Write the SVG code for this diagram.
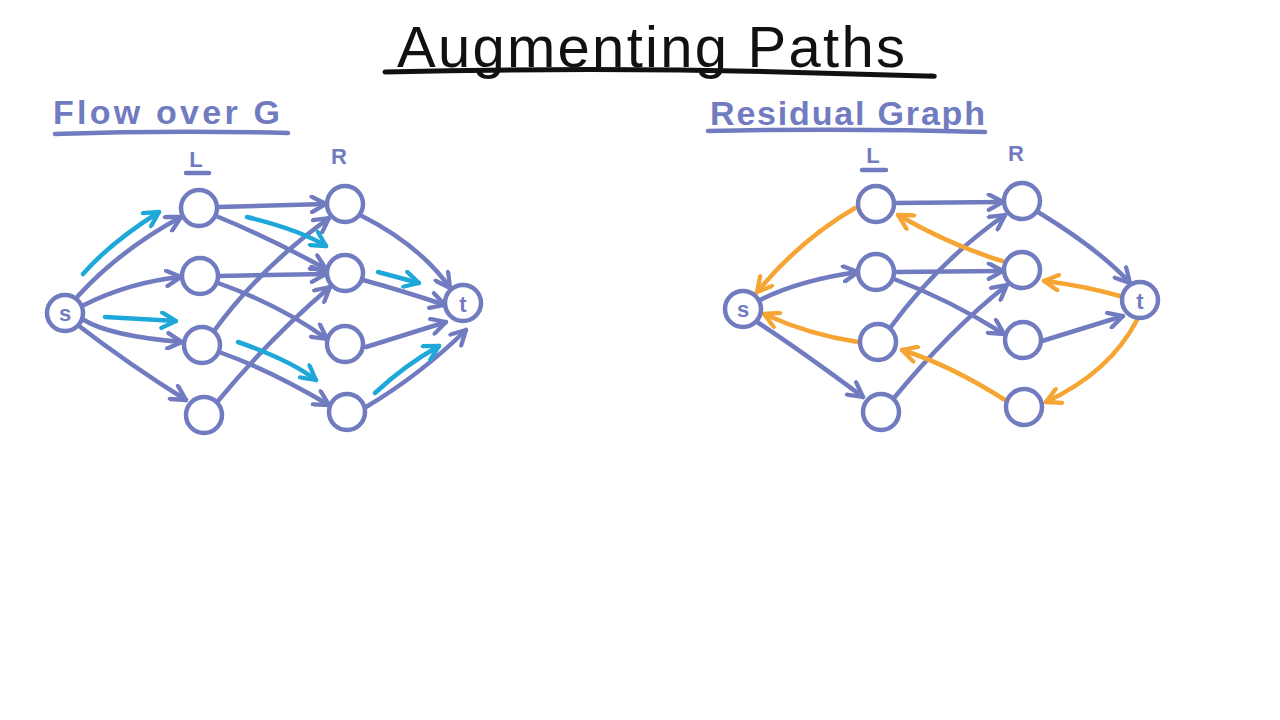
<svg xmlns="http://www.w3.org/2000/svg" width="1280" height="720" viewBox="0 0 1280 720">
<style>
.e{fill:none;stroke:#717bbf;stroke-width:4.5;stroke-linecap:round;stroke-linejoin:round}
.eb{marker-end:url(#ab)}
.c{fill:none;stroke:#1ea8da;stroke-width:4.5;stroke-linecap:round;marker-end:url(#ac)}
.o{fill:none;stroke:#f6a534;stroke-width:4.5;stroke-linecap:round;marker-end:url(#ao)}
.n{fill:#fff;stroke:#717bbf;stroke-width:4.5}
.h{font-family:"Liberation Sans",Arial,sans-serif;font-weight:bold;fill:#717bbf}
.lbl{font-family:"Liberation Sans",Arial,sans-serif;font-weight:bold;fill:#717bbf;font-size:22px;text-anchor:middle}
.ul{fill:none;stroke:#717bbf;stroke-width:4.5;stroke-linecap:round}
</style>
<defs>
<marker id="ab" viewBox="0 0 16 16" refX="14" refY="8" markerWidth="19" markerHeight="19" markerUnits="userSpaceOnUse" orient="auto"><path d="M2,1.5 L14,8 L2,14.5" fill="none" stroke="#717bbf" stroke-width="3.6" stroke-linecap="round" stroke-linejoin="round"/></marker>
<marker id="ac" viewBox="0 0 16 16" refX="14" refY="8" markerWidth="19" markerHeight="19" markerUnits="userSpaceOnUse" orient="auto"><path d="M2,1.5 L14,8 L2,14.5" fill="none" stroke="#1ea8da" stroke-width="3.6" stroke-linecap="round" stroke-linejoin="round"/></marker>
<marker id="ao" viewBox="0 0 16 16" refX="14" refY="8" markerWidth="19" markerHeight="19" markerUnits="userSpaceOnUse" orient="auto"><path d="M2,1.5 L14,8 L2,14.5" fill="none" stroke="#f6a534" stroke-width="3.6" stroke-linecap="round" stroke-linejoin="round"/></marker>
</defs>
<rect width="1280" height="720" fill="#fff"/>

<g id="title">
<text x="397" y="67" font-family="Liberation Sans,Arial,sans-serif" font-size="58" fill="#111" textLength="508" lengthAdjust="spacing">Augmenting Paths</text>
<path d="M385,72 Q600,67 780,72 T930,76" fill="none" stroke="#111" stroke-width="5" stroke-linecap="round"/>
</g>

<g id="heading-left">
<text class="h" x="53" y="124" font-size="34" textLength="227" lengthAdjust="spacing">Flow over G</text>
<path class="ul" d="M55,134 Q170,130 288,133"/>
</g>
<g id="heading-right">
<text class="h" x="710" y="125" font-size="34" textLength="275" lengthAdjust="spacing">Residual Graph</text>
<path class="ul" d="M708,131 Q850,128 985,132"/>
</g>

<g id="set-labels">
<text class="lbl" x="196" y="167" font-size="20">L</text>
<path class="ul" d="M186,173 L209,173" stroke-width="3.5"/>
<text class="lbl" x="339" y="164" font-size="20">R</text>
<text class="lbl" x="873" y="163" font-size="20">L</text>
<path class="ul" d="M862,170 L886,170" stroke-width="3.5"/>
<text class="lbl" x="1016" y="161" font-size="20">R</text>
</g>

<g id="connectors">
<!-- left graph edges -->
<path class="e eb" d="M78,296 Q120,250 181,217"/>
<path class="e eb" d="M84,305 Q130,282 181,277"/>
<path class="e eb" d="M84,320 Q110,336 182,342"/>
<path class="e eb" d="M79,326 Q130,365 186,400"/>
<path class="e eb" d="M218,207 L326,204"/>
<path class="e eb" d="M216,216 Q270,238 326,269"/>
<path class="e eb" d="M219,276 L326,274"/>
<path class="e eb" d="M218,283 Q280,305 327,339"/>
<path class="e eb" d="M214,331 Q260,268 329,218"/>
<path class="e eb" d="M219,352 Q270,370 329,405"/>
<path class="e eb" d="M218,401 Q270,338 330,287"/>
<path class="e eb" d="M360,215 Q420,245 450,288"/>
<path class="e eb" d="M363,280 Q400,290 445,305"/>
<path class="e eb" d="M366,347 L446,322"/>
<path class="e eb" d="M366,407 Q420,375 466,330"/>
<!-- flow (cyan) -->
<path class="c" d="M83,274 Q110,243 159,212"/>
<path class="c" d="M105,317 L176,321"/>
<path class="c" d="M247,217 Q300,230 326,246"/>
<path class="c" d="M238,342 Q290,360 316,380"/>
<path class="c" d="M378,272 L419,283"/>
<path class="c" d="M375,393 Q405,365 439,346"/>
<!-- right graph edges -->
<path class="e eb" d="M895,203 L1003,202"/>
<path class="e eb" d="M760,300 Q800,280 858,272"/>
<path class="e eb" d="M757,322 Q800,350 863,397"/>
<path class="e eb" d="M895,272 L1003,271"/>
<path class="e eb" d="M894,279 Q950,300 1004,334"/>
<path class="e eb" d="M890,328 Q940,260 1005,215"/>
<path class="e eb" d="M894,398 Q950,330 1007,285"/>
<path class="e eb" d="M1038,212 Q1100,250 1130,283"/>
<path class="e eb" d="M1042,341 L1123,316"/>
<!-- residual back edges (orange) -->
<path class="o" d="M855,208 Q800,240 757,292"/>
<path class="o" d="M1002,261 Q950,245 898,215"/>
<path class="o" d="M858,342 Q810,335 764,314"/>
<path class="o" d="M1120,296 Q1080,285 1044,281"/>
<path class="o" d="M1137,320 Q1110,372 1046,402"/>
<path class="o" d="M1005,400 Q950,365 902,350"/>
</g>

<g id="left-s"><circle class="n" cx="65" cy="313" r="18"/><text class="lbl" x="65" y="321" font-size="22">s</text></g>
<g id="left-L1"><circle class="n" cx="199" cy="208" r="18"/></g>
<g id="left-L2"><circle class="n" cx="200" cy="276" r="18"/></g>
<g id="left-L3"><circle class="n" cx="202" cy="345" r="18"/></g>
<g id="left-L4"><circle class="n" cx="204" cy="415" r="18"/></g>
<g id="left-R1"><circle class="n" cx="345" cy="204" r="18"/></g>
<g id="left-R2"><circle class="n" cx="345" cy="273" r="18"/></g>
<g id="left-R3"><circle class="n" cx="345" cy="344" r="18"/></g>
<g id="left-R4"><circle class="n" cx="347" cy="412" r="18"/></g>
<g id="left-t"><circle class="n" cx="463" cy="303" r="18"/><text class="lbl" x="463" y="312" font-size="24">t</text></g>

<g id="right-s"><circle class="n" cx="743" cy="309" r="18"/><text class="lbl" x="743" y="317" font-size="22">s</text></g>
<g id="right-L1"><circle class="n" cx="876" cy="204" r="18"/></g>
<g id="right-L2"><circle class="n" cx="876" cy="272" r="18"/></g>
<g id="right-L3"><circle class="n" cx="878" cy="342" r="18"/></g>
<g id="right-L4"><circle class="n" cx="881" cy="412" r="18"/></g>
<g id="right-R1"><circle class="n" cx="1022" cy="201" r="18"/></g>
<g id="right-R2"><circle class="n" cx="1022" cy="270" r="18"/></g>
<g id="right-R3"><circle class="n" cx="1023" cy="340" r="18"/></g>
<g id="right-R4"><circle class="n" cx="1024" cy="407" r="18"/></g>
<g id="right-t"><circle class="n" cx="1140" cy="300" r="18"/><text class="lbl" x="1140" y="309" font-size="24">t</text></g>
</svg>
